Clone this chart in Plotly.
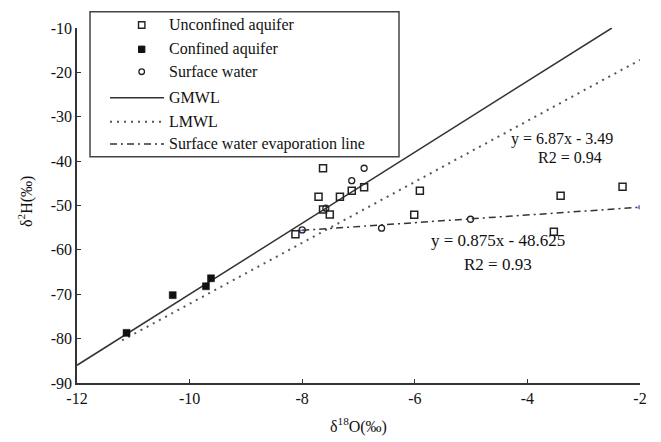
import plotly.graph_objects as go

# ---------------- data ----------------
unconf_x = [-7.63, -7.71, -7.33, -7.12, -6.90, -7.63, -7.51, -8.12, -5.91, -6.01, -3.41, -2.31, -3.53]
unconf_y = [-41.6, -48.0, -48.0, -46.7, -45.9, -50.9, -52.0, -56.5, -46.7, -52.1, -47.8, -45.8, -55.9]

conf_x = [-11.12, -10.30, -9.71, -9.62]
conf_y = [-78.7, -70.2, -68.2, -66.4]

surf_x = [-6.90, -7.12, -7.58, -8.00, -6.59, -5.01]
surf_y = [-41.6, -44.4, -50.6, -55.5, -55.1, -53.1]

gmwl_x = [-12.0, -2.5]
gmwl_y = [-86.0, -10.0]
lmwl_x = [-11.2, -2.0]
lmwl_y = [-80.4, -17.2]
evap_x = [-8.0, -2.0]
evap_y = [-55.6, -50.4]

x_ticks = [-12, -10, -8, -6, -4, -2]
x_ticktext = ["-12", "-10", "-8", "-6", "-4", "-2"]
y_ticks = [-90, -80, -70, -60, -50, -40, -30, -20, -10]
y_ticktext = ["-90", "-80", "-70", "-60", "-50", "-40", "-30", "-20", "-10"]

legend_names = ["Unconfined aquifer", "Confined aquifer", "Surface water",
                "GMWL", "LMWL", "Surface water evaporation line"]

# ---------------- layout geometry ----------------
W, H = 661, 442
L, R, T, B = 77, 640, 28, 383   # plot area in pixels
FONT = "Liberation Serif"
INK = "#222222"
TXT = "#111111"

def px(xp):
    return (xp - L) / (R - L)

def py(yp):
    return (B - yp) / (B - T)

fig = go.Figure()

fig.add_trace(go.Scatter(x=gmwl_x, y=gmwl_y, mode="lines",
                         line=dict(color="#333333", width=1.5), name="GMWL"))
fig.add_trace(go.Scatter(x=lmwl_x, y=lmwl_y, mode="lines",
                         line=dict(color="#555555", width=2, dash="2px,5px"), name="LMWL"))
fig.add_trace(go.Scatter(x=evap_x, y=evap_y, mode="lines",
                         line=dict(color="#333333", width=1.5, dash="7px,4px,2px,4px"),
                         name="Surface water evaporation line"))
# faint blue end marks seen at the ends of the evaporation line
fig.add_trace(go.Scatter(x=evap_x, y=evap_y, mode="markers", name="evap ends",
                         marker=dict(symbol=["line-ew", "circle"], size=[7, 3],
                                     color="#4455cc", line=dict(width=1.5, color="#4455cc"))))
fig.add_trace(go.Scatter(x=unconf_x, y=unconf_y, mode="markers", name="Unconfined aquifer",
                         marker=dict(symbol="square-open", size=7, color=INK,
                                     line=dict(width=1.5, color=INK))))
fig.add_trace(go.Scatter(x=conf_x, y=conf_y, mode="markers", name="Confined aquifer",
                         marker=dict(symbol="square", size=7, color="#111111",
                                     line=dict(width=0.5, color="#111111"))))
fig.add_trace(go.Scatter(x=surf_x, y=surf_y, mode="markers", name="Surface water",
                         marker=dict(symbol="circle-open", size=6, color=INK,
                                     line=dict(width=1.3, color=INK))))

shapes = []
annotations = []

# legend box
shapes.append(dict(type="rect", xref="paper", yref="paper",
                   x0=px(90), x1=px(399), y0=py(156.7), y1=py(11.7),
                   line=dict(color="#444444", width=1.5), fillcolor="white", layer="above"))

rows = [25, 49.3, 71.7, 97.7, 121.7, 144]
mx = 141.7
s = 3.2
# marker samples
shapes.append(dict(type="rect", xref="paper", yref="paper",
                   x0=px(mx - s), x1=px(mx + s), y0=py(rows[0] + s), y1=py(rows[0] - s),
                   line=dict(color=INK, width=1.4), layer="above"))
shapes.append(dict(type="rect", xref="paper", yref="paper",
                   x0=px(mx - s), x1=px(mx + s), y0=py(rows[1] + s), y1=py(rows[1] - s),
                   line=dict(color="#111111", width=1), fillcolor="#111111", layer="above"))
shapes.append(dict(type="circle", xref="paper", yref="paper",
                   x0=px(mx - 2.8), x1=px(mx + 2.8), y0=py(rows[2] + 2.8), y1=py(rows[2] - 2.8),
                   line=dict(color=INK, width=1.3), layer="above"))
# line samples
line_styles = [dict(color="#333333", width=1.5),
               dict(color="#555555", width=2, dash="2px,5px"),
               dict(color="#333333", width=1.5, dash="7px,4px,2px,4px")]
for r, st in zip(rows[3:], line_styles):
    shapes.append(dict(type="line", xref="paper", yref="paper",
                       x0=px(110), x1=px(164), y0=py(r), y1=py(r), line=st, layer="above"))

for r, name in zip(rows, legend_names):
    annotations.append(dict(xref="paper", yref="paper", x=px(167), y=py(r),
                            text=name, showarrow=False, xanchor="left", yanchor="middle",
                            font=dict(family=FONT, size=16, color=TXT)))

# regression equations
eq_font = dict(family=FONT, size=16, color=TXT)
annotations += [
    dict(x=-3.39, y=-35.0, xref="x", yref="y", text="y = 6.87x - 3.49", showarrow=False, font=eq_font),
    dict(x=-3.25, y=-39.1, xref="x", yref="y", text="R2 = 0.94", showarrow=False, font=eq_font),
    dict(x=-4.52, y=-57.8, xref="x", yref="y", text="y = 0.875x - 48.625", showarrow=False,
         font=dict(family=FONT, size=17, color=TXT)),
    dict(x=-4.52, y=-63.4, xref="x", yref="y", text="R2 = 0.93", showarrow=False,
         font=dict(family=FONT, size=17, color=TXT)),
]

# axis titles
annotations.append(dict(xref="paper", yref="paper", x=px(358), y=py(425),
                        text="δ<sup>18</sup>O(‰)", showarrow=False, xanchor="center", yanchor="middle",
                        font=dict(family=FONT, size=16, color=TXT)))
annotations.append(dict(xref="paper", yref="paper", x=px(25), y=py(202),
                        text="δ<sup>2</sup>H(‰)", showarrow=False, textangle=-90,
                        xanchor="center", yanchor="middle",
                        font=dict(family=FONT, size=16, color=TXT)))

axis_common = dict(showgrid=False, zeroline=False, showline=True, linecolor="#333333",
                   linewidth=1.5, ticks="inside", ticklen=4, tickwidth=1.2, tickcolor="#333333",
                   tickfont=dict(family=FONT, size=16, color=TXT), mirror=False)

fig.update_layout(
    width=W, height=H,
    margin=dict(l=L, r=W - R, t=T, b=H - B),
    paper_bgcolor="white", plot_bgcolor="white",
    showlegend=False,
    shapes=shapes, annotations=annotations,
    xaxis=dict(range=[-12, -2], tickvals=x_ticks, ticktext=x_ticktext, **axis_common),
    yaxis=dict(range=[-90, -10], tickvals=y_ticks, ticktext=y_ticktext, **axis_common),
)

fig.write_html("out.html")
